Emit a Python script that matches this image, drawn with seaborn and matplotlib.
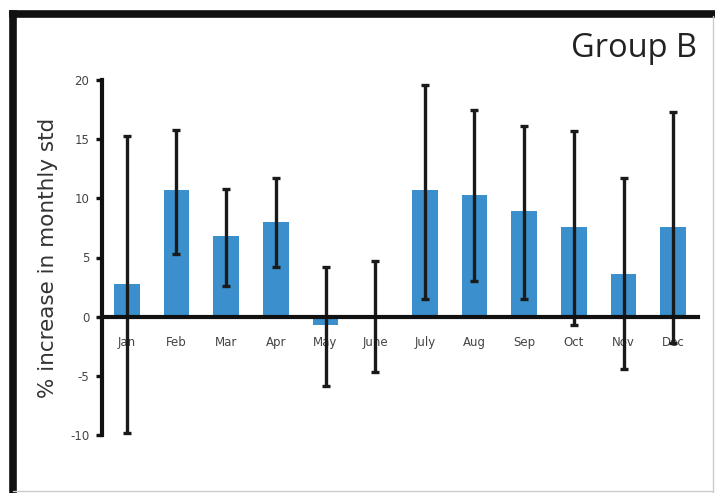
import numpy as np
import pandas as pd
import matplotlib
matplotlib.use("Agg")
import matplotlib.pyplot as plt
import seaborn as sns
from matplotlib.lines import Line2D
from matplotlib.ticker import FixedLocator

months = ["Jan", "Feb", "Mar", "Apr", "May", "June", "July", "Aug", "Sep", "Oct", "Nov", "Dec"]
values = [2.8, 10.7, 6.8, 8.0, -0.7, 0.0, 10.7, 10.3, 8.9, 7.6, 3.6, 7.6]
err_top = [15.3, 15.8, 10.8, 11.7, 4.2, 4.7, 19.6, 17.5, 16.1, 15.7, 11.7, 17.3]
err_bottom = [-9.8, 5.3, 2.6, 4.2, -5.9, -4.7, 1.5, 3.0, 1.5, -0.7, -4.4, -2.2]
yticks = [-10, -5, 0, 5, 10, 15, 20]

sns.set_style("white")
plt.rcParams["font.family"] = ["DejaVu Sans"]

df = pd.DataFrame({"month": months, "value": values})

fig = plt.figure(figsize=(7.15, 4.93), dpi=100)
ax = fig.add_axes([102 / 715, (493 - 435) / 493, 596 / 715, 355 / 493])

sns.barplot(data=df, x="month", y="value", color="#3A8FCC", saturation=1,
            width=0.52, ax=ax, errorbar=None)
for p in ax.patches:
    p.set_edgecolor("none")

vals = np.array(values)
yerr = np.vstack([vals - np.array(err_bottom), np.array(err_top) - vals])
ax.errorbar(np.arange(len(months)), vals, yerr=yerr, fmt="none",
            ecolor="#1a1a1a", elinewidth=2.4, capsize=3, capthick=2.4, zorder=5)

ax.set_xlim(-0.5, len(months) - 0.5)
ax.set_ylim(-10, 20)
ax.set_yticks(yticks)
ax.set_yticklabels([str(t) for t in yticks])

ax.spines["top"].set_visible(False)
ax.spines["right"].set_visible(False)
ax.spines["bottom"].set_position(("data", 0))
ax.spines["bottom"].set_linewidth(3)
ax.spines["left"].set_linewidth(3)
ax.spines["bottom"].set_color("#111111")
ax.spines["left"].set_color("#111111")
ax.spines["bottom"].set_zorder(6)

ax.xaxis.set_minor_locator(FixedLocator(np.arange(0.5, len(months), 1.0)))
ax.tick_params(axis="x", which="major", length=0, pad=14, labelsize=8.5, labelcolor="#444444")
ax.tick_params(axis="x", which="minor", length=4, width=2.4, direction="out", color="#111111")
ax.tick_params(axis="y", which="major", length=4, width=2.4, direction="out", pad=5,
               labelsize=8.5, labelcolor="#444444", color="#111111", left=True)
ax.set_xlabel("")
ax.set_ylabel("% increase in monthly std", fontsize=15.5, color="#333333", labelpad=9)

fig.text(697 / 715, 1 - 57 / 493, "Group B", ha="right", va="baseline",
         fontsize=23.5, color="#222222", family=["Open Sans", "DejaVu Sans"])

# figure frame
fig.add_artist(Line2D([13 / 715, 13 / 715], [0, 1 - 13.5 / 493], color="#111111",
                      lw=5.5, transform=fig.transFigure, solid_capstyle="projecting"))
fig.add_artist(Line2D([13 / 715, 1], [1 - 13.5 / 493, 1 - 13.5 / 493], color="#111111",
                      lw=5.5, transform=fig.transFigure, solid_capstyle="projecting"))
fig.add_artist(Line2D([713 / 715, 713 / 715], [0, 1 - 16 / 493], color="#cccccc",
                      lw=1, transform=fig.transFigure))
fig.add_artist(Line2D([13 / 715, 713 / 715], [2 / 493, 2 / 493], color="#cccccc",
                      lw=1, transform=fig.transFigure))

fig.savefig("out.png", dpi=100)
